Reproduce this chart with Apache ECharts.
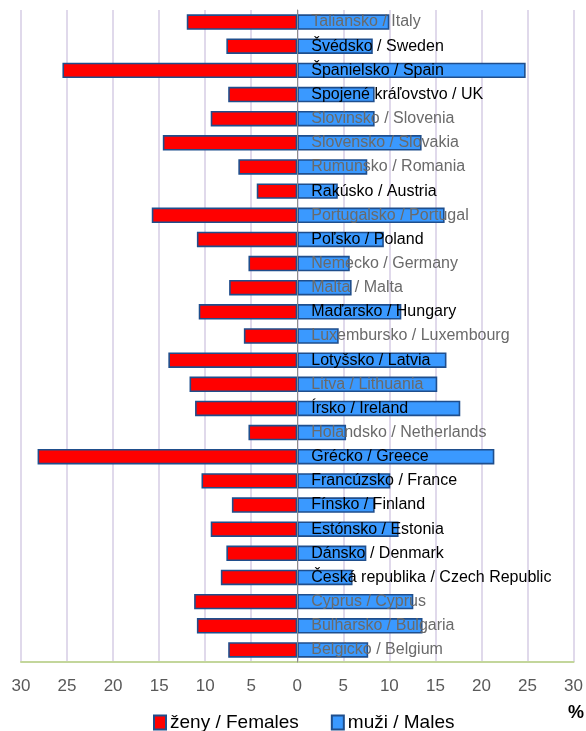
<!DOCTYPE html>
<html>
<head>
<meta charset="utf-8">
<script src="https://cdn.jsdelivr.net/npm/echarts@6/dist/echarts.min.js"></script>
<style>html,body{margin:0;padding:0;background:#fff;}#c{width:586px;height:731px;}</style>
</head>
<body>
<div id="c"></div>
<script>
const categories = ['Taliansko / Italy', 'Švédsko / Sweden', 'Španielsko / Spain', 'Spojené kráľovstvo / UK', 'Slovinsko / Slovenia', 'Slovensko / Slovakia', 'Rumunsko / Romania', 'Rakúsko / Austria', 'Portugalsko / Portugal', 'Poľsko / Poland', 'Nemecko / Germany', 'Malta / Malta', 'Maďarsko / Hungary', 'Luxembursko / Luxembourg', 'Lotyšsko / Latvia', 'Litva / Lithuania', 'Írsko / Ireland', 'Holandsko / Netherlands', 'Grécko / Greece', 'Francúzsko / France', 'Fínsko / Finland', 'Estónsko / Estonia', 'Dánsko / Denmark', 'Česká republika / Czech Republic', 'Cyprus / Cyprus', 'Bulharsko / Bulgaria', 'Belgicko / Belgium'];
const females = [12.0, 7.7, 25.5, 7.5, 9.4, 14.6, 6.4, 4.4, 15.8, 10.9, 5.3, 7.4, 10.7, 5.8, 14.0, 11.7, 11.1, 5.3, 28.2, 10.4, 7.1, 9.4, 7.7, 8.3, 11.2, 10.9, 7.5];
const males = [10.0, 8.2, 24.8, 8.4, 8.4, 13.5, 7.6, 4.4, 16.0, 9.4, 5.7, 5.9, 11.3, 4.5, 16.2, 15.2, 17.7, 5.3, 21.4, 10.1, 8.4, 11.0, 7.5, 6.0, 12.6, 13.6, 7.7];
const darkLabels = ['Švédsko / Sweden', 'Španielsko / Spain', 'Spojené kráľovstvo / UK', 'Rakúsko / Austria', 'Poľsko / Poland', 'Maďarsko / Hungary', 'Lotyšsko / Latvia', 'Írsko / Ireland', 'Grécko / Greece', 'Francúzsko / France', 'Fínsko / Finland', 'Estónsko / Estonia', 'Dánsko / Denmark', 'Česká republika / Czech Republic'];
const seriesNames = ['ženy / Females', 'muži / Males'];
const xTicks = [-30, -25, -20, -15, -10, -5, 0, 5, 10, 15, 20, 25, 30];

const chart = echarts.init(document.getElementById('c'), null, {renderer: 'canvas'});
const FONT = 'Liberation Sans';
chart.setOption({
  animation: false,
  textStyle: {fontFamily: FONT},
  grid: {left: 21, right: 12, top: 10, bottom: 69, containLabel: false},
  legend: {
    data: seriesNames,
    left: 148, top: 708,
    icon: 'rect',
    itemWidth: 12, itemHeight: 14, itemGap: 32,
    textStyle: {fontSize: 19, color: '#000', fontFamily: FONT, padding: [0, 0, 0, -1]}
  },
  graphic: [{
    type: 'text', left: 568, top: 704,
    style: {text: '%', font: 'bold 18px "Liberation Sans"', fill: '#000'}
  }],
  xAxis: {
    type: 'value',
    min: xTicks[0], max: xTicks[xTicks.length - 1], interval: 5,
    axisLine: {show: true, onZero: false, lineStyle: {color: '#C3D69B', width: 2}},
    axisTick: {show: false},
    axisLabel: {
      margin: 16, fontSize: 17, color: '#595959', fontFamily: FONT,
      formatter: v => String(Math.abs(v))
    },
    splitLine: {show: true, lineStyle: {color: '#D6CDE4', width: 1.5}}
  },
  yAxis: {
    type: 'category',
    data: categories,
    inverse: true,
    z: 10,
    axisLine: {show: true, onZero: true, lineStyle: {color: '#8C8C8C', width: 1}},
    axisTick: {show: false},
    splitLine: {show: false},
    axisLabel: {show: false}
  },
  series: [
    {
      name: seriesNames[0], type: 'bar',
      data: females.map(v => -v),
      barWidth: '64%', barGap: '-100%',
      itemStyle: {color: '#FF0000', borderColor: '#1F4E8C', borderWidth: 1.6}
    },
    {
      name: seriesNames[1], type: 'bar',
      data: males,
      barWidth: '64%', barGap: '-100%',
      itemStyle: {color: '#3A99FF', borderColor: '#1F4E8C', borderWidth: 1.6},
      label: {
        show: true, position: 'insideLeft', distance: 14,
        formatter: p => darkLabels.indexOf(p.name) >= 0 ? '{d|' + p.name + '}' : '{g|' + p.name + '}',
        rich: {
          d: {color: '#000000', fontSize: 16, fontFamily: FONT},
          g: {color: '#6A6A6A', fontSize: 16, fontFamily: FONT}
        }
      },
      labelLayout: {hideOverlap: false}
    }
  ]
});
</script>
</body>
</html>
